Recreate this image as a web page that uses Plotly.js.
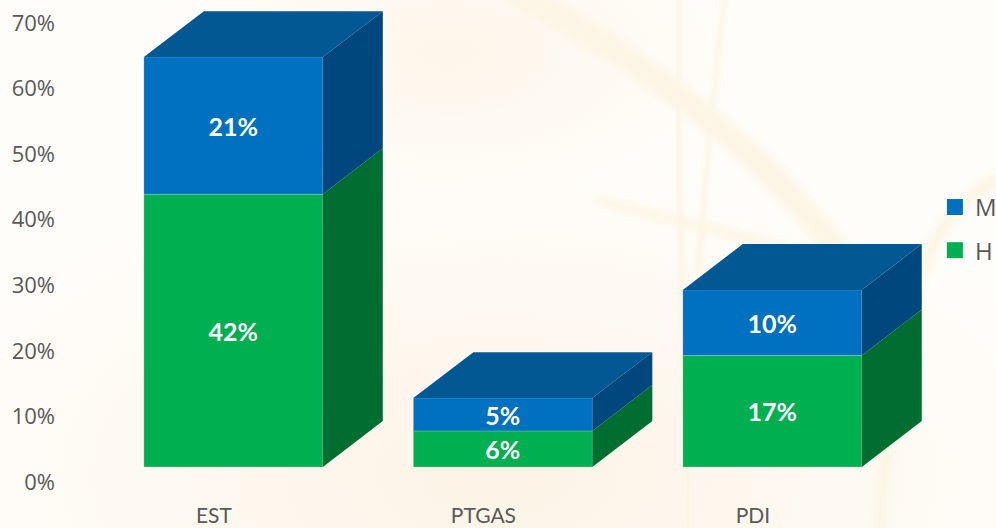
<!DOCTYPE html>
<html>
<head>
<meta charset="utf-8">
<script src="https://cdn.plot.ly/plotly-3.0.1.min.js"></script>
<style>
html,body{margin:0;padding:0;width:996px;height:528px;overflow:hidden;background:#fffdfa}
#bg{position:absolute;left:0;top:0;width:996px;height:528px}
#chart{position:absolute;left:0;top:0;width:996px;height:528px}
</style>
</head>
<body>
<svg id="bg" viewBox="0 0 996 528">
  <defs>
    <radialGradient id="warm" cx="0.5" cy="0.9" r="0.6">
      <stop offset="0" stop-color="#fdf3e6"/><stop offset="1" stop-color="#fffdfa"/>
    </radialGradient>
    <radialGradient id="warm2" cx="0.45" cy="0.1" r="0.3">
      <stop offset="0" stop-color="#fdf6ea"/><stop offset="1" stop-color="#fdf6ea" stop-opacity="0"/>
    </radialGradient>
    <filter id="b"><feGaussianBlur stdDeviation="4"/></filter>
    <filter id="b2"><feGaussianBlur stdDeviation="2"/></filter>
  </defs>
  <rect width="996" height="528" fill="url(#warm)"/>
  <rect width="996" height="528" fill="url(#warm2)"/>
  <g fill="none" stroke="#fdf6e6" stroke-linecap="round">
    <path d="M520,-5 C640,60 770,150 850,270" stroke-width="26" filter="url(#b)"/>
    <path d="M678,0 C676,120 680,260 690,528" stroke-width="7" filter="url(#b2)"/>
    <path d="M725,0 C712,90 700,240 688,400" stroke-width="6" filter="url(#b2)"/>
    <path d="M600,200 C650,215 700,225 790,250" stroke-width="10" filter="url(#b)"/>
    <path d="M996,180 C940,210 900,260 880,528" stroke-width="14" filter="url(#b)"/>
  </g>
</svg>
<div id="chart"></div>
<script>
var categories = ["EST", "PTGAS", "PDI"];
var hValues = [41.6, 5.5, 17];
var mValues = [20.9, 5, 10];
var yTickValues = [0, 10, 20, 30, 40, 50, 60, 70];
var colors = {
  H: "#00B050", M: "#0070C0", top: "#015893",
  sideH: "#006E31", sideM: "#00477D", tick: "#595959"
};
// Pseudo-3D geometry, in axis units
var floorLevel = 2.29, barLeft = -0.26, barWidth = 0.664, depthX = 0.2226, depthY = 7;
var positions = categories.map(function (c, i) { return i; });
var pct = function (v) { return Math.round(v) + "%"; };
var hBase = hValues.map(function () { return floorLevel; });
var mBase = hValues.map(function (v) { return floorLevel + v; });

function face(xs, ys, color) {
  return {type: "scatter", mode: "lines", x: xs, y: ys, fill: "toself", fillcolor: color,
    line: {width: 0, color: color}, hoverinfo: "skip", showlegend: false};
}
var traces = [];
function bar(name, vals, base, color) {
  return {type: "bar", name: name, x: positions, y: vals, base: base, width: barWidth, offset: barLeft,
    marker: {color: color, line: {color: "rgba(255,255,255,0.2)", width: 1}},
    text: vals.map(pct), textposition: "inside", insidetextanchor: "middle", textangle: 0,
    constraintext: "none",
    insidetextfont: {family: "Lato, 'Open Sans', sans-serif", size: 25, color: "#ffffff", weight: 700},
    hoverinfo: "skip", showlegend: false};
}
traces.push(bar("H", hValues, hBase, colors.H));
traces.push(bar("M", mValues, mBase, colors.M));
positions.forEach(function (p, i) {
  var l = p + barLeft, r = l + barWidth;
  var y0 = hBase[i], y1 = mBase[i], y2 = y1 + mValues[i];
  traces.push(face([r, r + depthX, r + depthX, r, r], [y0, y0 + depthY, y1 + depthY, y1, y0], colors.sideH));
  traces.push(face([r, r + depthX, r + depthX, r, r], [y1, y1 + depthY, y2 + depthY, y2, y1], colors.sideM));
  traces.push(face([l, l + depthX, r + depthX, r, l], [y2, y2 + depthY, y2 + depthY, y2, y2], colors.top));
});
// legend keys
[["M", colors.M], ["H", colors.H]].forEach(function (k) {
  traces.push({type: "scatter", mode: "markers", name: k[0], x: [null], y: [null], legendgroup: k[0],
    marker: {symbol: "square", size: 16, color: k[1]}});
});

var layout = {
  width: 996, height: 528,
  margin: {l: 56, r: 0, t: 0, b: 31, pad: 0, autoexpand: false},
  paper_bgcolor: "rgba(0,0,0,0)", plot_bgcolor: "rgba(0,0,0,0)",
  barmode: "overlay",
  showlegend: true,
  legend: {x: 0.935, y: 0.628, xanchor: "left", yanchor: "top", bgcolor: "rgba(0,0,0,0)",
    font: {family: "'Open Sans', sans-serif", size: 24, color: colors.tick},
    traceorder: "grouped", tracegroupgap: 9, itemwidth: 30},
  xaxis: {range: [-0.586, 2.902], tickmode: "array", tickvals: positions, ticktext: categories,
    showgrid: false, zeroline: false, showline: false, ticks: "outside", ticklen: 0, tickcolor: "rgba(0,0,0,0)", automargin: false,
    tickfont: {family: "Lato, sans-serif", size: 21, color: colors.tick}},
  yaxis: {range: [-2.29, 73.5], tickmode: "array", tickvals: yTickValues,
    ticktext: yTickValues.map(function (v) { return v + "%"; }),
    showgrid: false, zeroline: false, showline: false, ticks: "", automargin: false,
    tickfont: {family: "'Open Sans', sans-serif", size: 22, color: colors.tick}},
  font: {family: "'Open Sans', sans-serif"}
};
Plotly.newPlot("chart", traces, layout, {displayModeBar: false, staticPlot: true});
</script>
</body>
</html>
